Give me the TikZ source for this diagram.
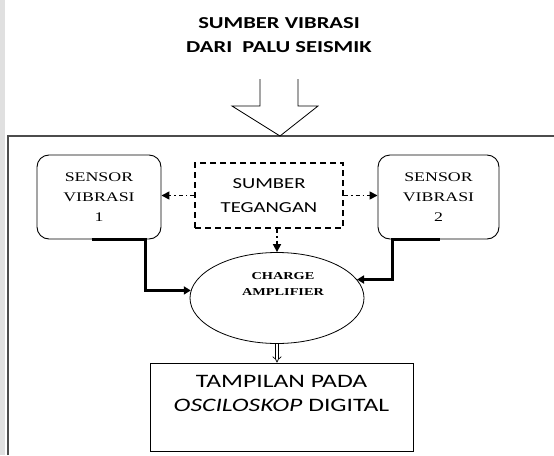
\documentclass[tikz,border=0pt]{standalone}
\usepackage{fontspec}
\setmainfont{Liberation Serif}
\setsansfont{Carlito}
\usepackage{graphicx}
\usetikzlibrary{calc, positioning, arrows.meta, shapes.geometric}
\newcommand{\widetext}[1]{\scalebox{1.35}[1]{\begin{tabular}{@{}c@{}}#1\end{tabular}}}
\tikzset{
    vibration/.style={
        x=1pt, y=-1pt,
        sensor/.style={draw, rectangle, rounded corners=12pt, line width=0.9pt, minimum width=124pt, minimum height=84pt, inner sep=0pt, font=\fontsize{13.2}{20}\selectfont},
        supply/.style={draw, rectangle, line width=1.8pt, dash pattern=on 6pt off 4pt, minimum width=148pt, minimum height=65pt, inner sep=0pt, font=\sffamily\fontsize{15.3}{24}\selectfont},
        amplifier/.style={draw, ellipse, line width=0.8pt, minimum width=174pt, minimum height=91pt, inner sep=0pt},
        amptext/.style={inner sep=0pt, font=\bfseries\fontsize{10.6}{16}\selectfont},
        display/.style={draw, rectangle, line width=0.9pt, minimum width=263pt, minimum height=88pt, inner sep=0pt, font=\sffamily\fontsize{19}{24}\selectfont},
        title/.style={inner sep=0pt, font=\sffamily\bfseries\fontsize{16.7}{23.5}\selectfont},
        hollow/.style={line width=0.8pt},
        power/.style={line width=1.6pt, dash pattern=on 4pt off 3pt on 1.6pt off 3pt, -{Triangle[length=8pt, width=8pt]}},
        signal/.style={line width=3.5pt, -{Triangle[length=7pt, width=8pt]}},
        output/.style={double, double distance=2.5pt, line width=0.7pt, -{Implies}},
        frame/.style={line width=1.4pt, black!70}
    }
}
\begin{document}
\begin{tikzpicture}[vibration]
    \useasboundingbox (0,0) rectangle (554,455);
    % page edge and outer frame
    \fill[black!12] (0,0) rectangle (5,455);
    \draw[frame] (8,455) -- (8,136) -- (554,136);

    % source of the vibration
    \node[title] (source) at (279,36) {\widetext{SUMBER VIBRASI\\DARI~~PALU SEISMIK}};
    \coordinate (hit) at (280,136);
    \draw[hollow] ($(hit)+(-20,-57)$) -- ++(0,27) -- ++(-28,0) -- (hit)
        -- ($(hit)+(38,-30)$) -- ++(-20,0) -- ++(0,-27);

    % blocks
    \node[sensor] (sens1) at (99,197) {\widetext{SENSOR\\VIBRASI\\1}};
    \node[supply] (supply) at (269,195.5) {\widetext{SUMBER\\TEGANGAN}};
    \node[sensor, minimum width=121pt] (sens2) at (438.5,197) {\widetext{SENSOR\\VIBRASI\\2}};
    \node[amplifier] (amp) at (277,298) {};
    \node[amptext] (amplabel) at (283,284.5) {\widetext{CHARGE\\AMPLIFIER}};
    \node[display] (scope) at (281.5,407) {\widetext{TAMPILAN PADA\\\textit{OSCILOSKOP} DIGITAL\\~}};

    % supply lines
    \draw[power] (supply.west) -- (sens1.east |- supply.west);
    \draw[power] (supply.east) -- (sens2.west |- supply.east);
    \draw[power] (supply.south -| amp.north) -- (amp.north);

    % sensor signals
    \draw[signal] ($(sens1.south west)+(55,0)$) -- ++(54,0) |- (amp.175);
    \draw[signal] ($(sens2.south west)+(62,0)$) -- ++(-47,0) |- (amp.13);

    % to the oscilloscope
    \draw[output] (amp.south) -- (amp.south |- scope.north);
\end{tikzpicture}
\end{document}
